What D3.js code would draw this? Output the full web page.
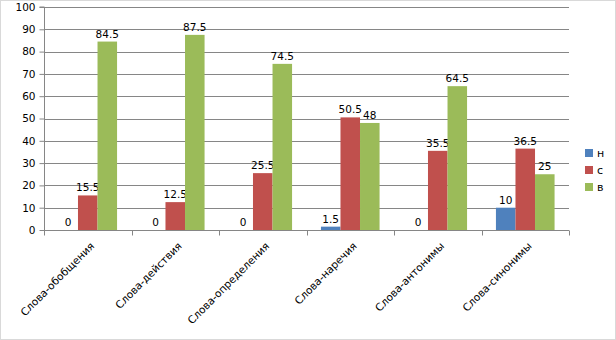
<!DOCTYPE html>
<html><head><meta charset="utf-8">
<script src="https://cdn.jsdelivr.net/npm/d3@7/dist/d3.min.js"></script>
<style>body{margin:0;background:#fff}svg{display:block}text{font-family:"DejaVu Sans",sans-serif}</style>
</head><body><svg id="chart" width="616" height="340"></svg>
<script>
const categories = ["Слова-обобщения","Слова-действия","Слова-определения","Слова-наречия","Слова-антонимы","Слова-синонимы"];
const seriesNames = ["н","с","в"];
const valuesN = [0,0,0,1.5,0,10];
const valuesS = [15.5,12.5,25.5,50.5,35.5,36.5];
const valuesV = [84.5,87.5,74.5,48,64.5,25];
const yTicks = [0,10,20,30,40,50,60,70,80,90,100];
const colors = ["#4F81BD","#C0504D","#9BBB59"];
const allSeries = [valuesN, valuesS, valuesV];

const svg = d3.select("#chart");
svg.append("rect").attr("x",0.5).attr("y",0.5).attr("width",615).attr("height",339).attr("fill","#fff").attr("stroke","#d9d9d9");

const L=44, R=569, T=7, B=230;
const x0 = d3.scaleBand().domain(categories).range([L,R]).paddingInner(0.33).paddingOuter(0.165);
const x1 = d3.scaleBand().domain(seriesNames).range([0,x0.bandwidth()]);
const y = d3.scaleLinear().domain([0,100]).range([B,T]);

// gridlines
svg.append("g").selectAll("line").data(yTicks.filter(d=>d>0)).join("line")
  .attr("x1",L).attr("x2",R).attr("y1",d=>Math.round(y(d))+0.5).attr("y2",d=>Math.round(y(d))+0.5)
  .attr("stroke","#868686").attr("stroke-width",1);

// y axis
const ya = svg.append("g").attr("transform",`translate(${L+0.5},0)`)
  .call(d3.axisLeft(y).tickValues(yTicks).tickSize(5).tickPadding(4));
ya.select(".domain").attr("stroke","#868686").attr("d",`M-5,${T}H0V${B}`);
ya.selectAll(".tick line").attr("stroke","#868686");
ya.selectAll(".tick text").attr("font-size",10.5).attr("fill","#000").style("font-family","DejaVu Sans");

// bars
const g = svg.append("g");
categories.forEach((cat,i)=>{
  seriesNames.forEach((s,j)=>{
    const v = allSeries[j][i];
    const bx = x0(cat)+x1(s);
    g.append("rect").attr("x",bx).attr("width",x1.bandwidth()).attr("y",y(v)).attr("height",B-y(v)).attr("fill",colors[j]);
    g.append("text").attr("x",bx+x1.bandwidth()/2).attr("y",y(v)-4).attr("text-anchor","middle")
      .attr("font-size",10.5).attr("fill","#000").text(v);
  });
});

// x axis
const xa = svg.append("g").attr("transform",`translate(0,${B+0.5})`);
xa.append("line").attr("x1",L).attr("x2",R).attr("stroke","#868686");
const bounds = categories.map(cat=>x0(cat)-x0.step()*x0.paddingInner()/2).concat([R]);
xa.selectAll("line.tk").data(bounds).join("line").attr("class","tk")
  .attr("x1",d=>Math.round(d)+0.5).attr("x2",d=>Math.round(d)+0.5).attr("y1",0).attr("y2",5).attr("stroke","#868686");
xa.selectAll("text.lbl").data(categories).join("text").attr("class","lbl")
  .attr("transform",d=>`translate(${x0(d)+x0.bandwidth()/2+2},11) rotate(-45)`)
  .attr("text-anchor","end").attr("dy","0.7em").attr("font-size",10.5).attr("fill","#000").text(d=>d);

// legend
const lg = svg.append("g");
seriesNames.forEach((s,j)=>{
  lg.append("rect").attr("x",585).attr("y",149+j*17).attr("width",8).attr("height",8).attr("fill",colors[j]);
  lg.append("text").attr("x",597).attr("y",157+j*17).attr("font-size",11).attr("fill","#000").text(s);
});
</script></body></html>
